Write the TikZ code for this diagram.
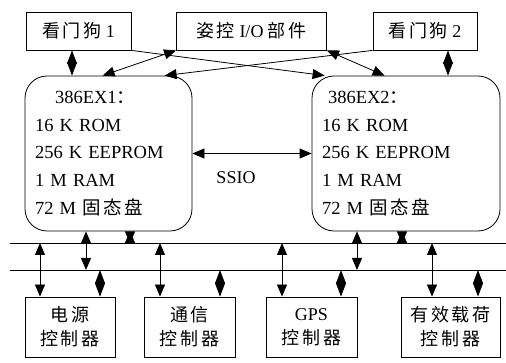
\documentclass[tikz,border=0pt]{standalone}
\usepackage{fontspec}
\setmainfont{Liberation Serif}
\newfontfamily\cjk{Noto Sans CJK SC}[LetterSpace=14]
\newcommand{\zh}[1]{{\cjk #1}}
\newcommand{\widesp}{\spaceskip=8pt plus 1pt\relax}
\usetikzlibrary{arrows.meta}

\begin{document}
\begin{tikzpicture}[x=1pt,y=-1pt,line width=0.8pt,
    every node/.style={font=\fontsize{18}{24}\selectfont},
    box/.style={draw,rectangle,inner sep=0pt,align=center},
    cpubox/.style={draw,rounded corners=22pt,align=left,inner xsep=10pt,inner ysep=0pt,minimum height=155pt,
      font=\fontsize{18.5}{27.7}\selectfont\widesp},
    sgl/.style={-{Triangle[length=12pt,width=10pt]}},
    dbl/.style={{Triangle[length=12pt,width=10pt]}-{Triangle[length=12pt,width=10pt]}},
    dia/.style={{Triangle[length=13.5pt,width=10pt]}-{Triangle[length=13.5pt,width=10pt]}},
    hg/.style={{Triangle[length=11.5pt,width=10pt]}-{Triangle[length=11.5pt,width=10pt]}}]
  \useasboundingbox (0,0) rectangle (506,363);
  \node[box,minimum width=105pt,minimum height=38pt] (wd1) at (78.5,31) {\zh{看门狗} 1};
  \node[box,minimum width=150pt,minimum height=38pt] (io) at (251.5,31) {\zh{姿控} I/O \zh{部件}};
  \node[box,minimum width=104pt,minimum height=38pt] (wd2) at (425,31) {\zh{看门狗} 2};
  \node[cpubox,text width=147pt] (cpu1) at (108.5,153.5)
    {\hspace*{20pt}386EX1\zh{：}\\16 K ROM\\256 K EEPROM\\1 M RAM\\72 M \zh{固态盘}};
  \node[cpubox,text width=168pt] (cpu2) at (406,153.5)
    {\hspace*{6pt}386EX2\zh{：}\\16 K ROM\\256 K EEPROM\\1 M RAM\\72 M \zh{固态盘}};
  \node (ssio) at (236,178) {SSIO};
  \draw[sgl] (wd1.south east) -- ([xshift=13pt]cpu2.north west);
  \draw[dbl] (io.south west) -- ([xshift=78pt]cpu1.north west);
  \draw[sgl] (wd2.south west) -- ([xshift=140pt]cpu1.north west);
  \draw[dbl] (io.south east) -- ([xshift=73pt]cpu2.north west);
  \draw[dia] (72,0 |- wd1.south) -- (72,0 |- cpu1.north);
  \draw[dia] (448,0 |- wd2.south) -- (448,0 |- cpu2.north);
  \draw[dbl] (cpu1.east) -- (cpu2.west);
  \coordinate (busA) at (10,243);
  \coordinate (busB) at (10,270);
  \draw (busA) -- ++(496,0);
  \draw (busB) -- ++(496,0);
  \node[box,minimum width=90pt,minimum height=60pt] (pwr) at (70,327) {\zh{电源}\\\zh{控制器}};
  \node[box,minimum width=91pt,minimum height=60pt] (com) at (189.5,327) {\zh{通信}\\\zh{控制器}};
  \node[box,minimum width=91pt,minimum height=60pt] (gps) at (311.5,327) {GPS\\\zh{控制器}};
  \node[box,minimum width=99pt,minimum height=60pt] (pay) at (450.5,327) {\zh{有效载荷}\\\zh{控制器}};
  \foreach \x/\b in {40/pwr,160/com,282/gps,432/pay}
    \draw[dbl] (\x,0 |- busA) -- (\x,0 |- \b.north);
  \foreach \x/\b in {100/pwr,220/com,341/gps,478/pay}
    \draw[dia] (\x,0 |- busB) -- (\x,0 |- \b.north);
  \draw[dbl] (86,0 |- cpu1.south) -- (86,0 |- busB);
  \draw[hg] (130,0 |- cpu1.south) -- (130,0 |- busA);
  \draw[dbl] (357,0 |- cpu2.south) -- (357,0 |- busB);
  \draw[hg] (402,0 |- cpu2.south) -- (402,0 |- busA);
\end{tikzpicture}
\end{document}
